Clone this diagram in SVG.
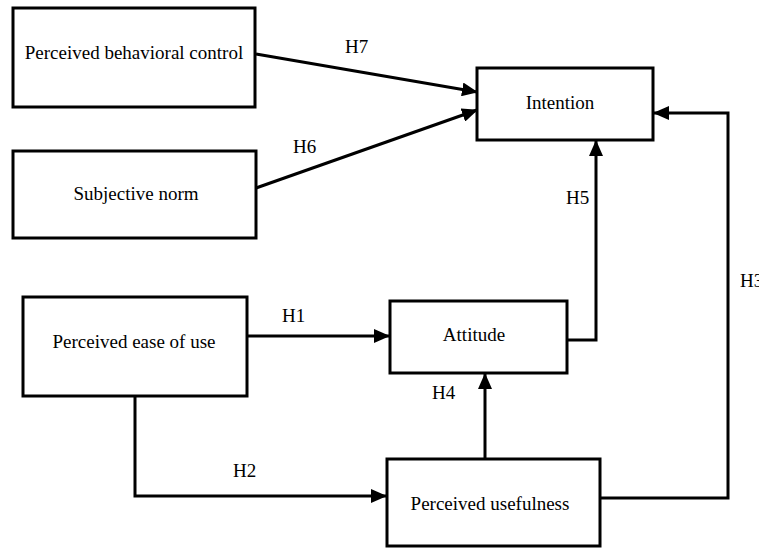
<svg xmlns="http://www.w3.org/2000/svg" width="759" height="548" viewBox="0 0 759 548">
<style>
text{font-family:'Liberation Serif','DejaVu Serif',serif;font-size:19px;fill:#000}
.t{text-anchor:middle}
.box{fill:#fff;stroke:#000;stroke-width:3}
.c{fill:none;stroke:#000;stroke-width:3;marker-end:url(#ah)}
</style>
<defs>
<marker id="ah" markerUnits="userSpaceOnUse" markerWidth="16" markerHeight="14" refX="15" refY="7" orient="auto">
<path d="M0,0 L16,7 L0,14 Z" fill="#000"/>
</marker>
</defs>
<rect width="759" height="548" fill="#fff"/>
<g id="connectors">
<path class="c" d="M256,54 L477,92"/>
<path class="c" d="M256,188 L477,110"/>
<path class="c" d="M567,340 L596,340 L596,141"/>
<path class="c" d="M600,498 L728,498 L728,113 L654,113"/>
<path class="c" d="M247,336 L389,336"/>
<path class="c" d="M135,396 L135,496 L386,496"/>
<path class="c" d="M485,459 L485,374"/>
<text x="345" y="53">H7</text>
<text x="293" y="153">H6</text>
<text x="566" y="204">H5</text>
<text x="740" y="287">H3</text>
<text x="282" y="322">H1</text>
<text x="233" y="477">H2</text>
<text x="432" y="399">H4</text>
</g>
<g id="pbc"><rect class="box" x="13" y="8" width="242" height="99"/><text class="t" x="134" y="59">Perceived behavioral control</text></g>
<g id="sn"><rect class="box" x="13" y="151" width="243" height="87"/><text class="t" x="136" y="200">Subjective norm</text></g>
<g id="intention"><rect class="box" x="477" y="68" width="176" height="72"/><text class="t" x="560" y="109">Intention</text></g>
<g id="peou"><rect class="box" x="23" y="297" width="224" height="99"/><text class="t" x="134" y="348">Perceived ease of use</text></g>
<g id="attitude"><rect class="box" x="390" y="301" width="177" height="72"/><text class="t" x="474" y="341">Attitude</text></g>
<g id="pu"><rect class="box" x="387" y="459" width="213" height="87"/><text class="t" x="490" y="510">Perceived usefulness</text></g>
</svg>
